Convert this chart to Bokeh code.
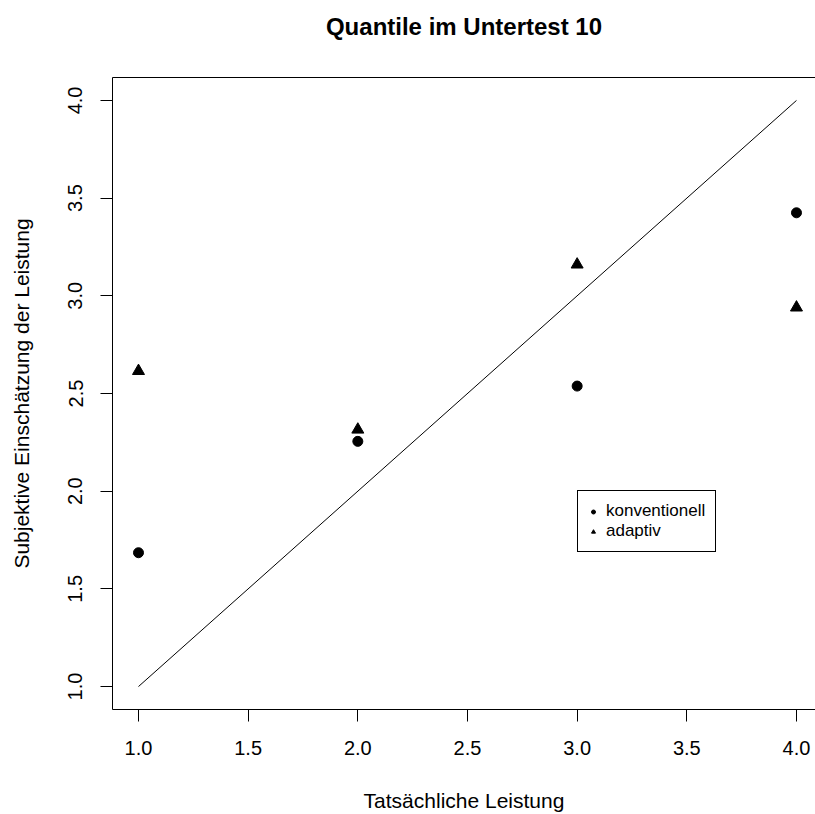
import math
from bokeh.plotting import figure
from bokeh.models import (Range1d, FixedTicker, Legend, LegendItem, ColumnDataSource,
                          LinearAxis)
from bokeh.embed import file_html
from bokeh.resources import INLINE

# data
title_text = "Quantile im Untertest 10"
x_label = "Tatsächliche Leistung"
y_label = "Subjektive Einschätzung der Leistung"
actual = [1, 2, 3, 4]
konventionell = [1.685, 2.255, 2.538, 3.425]
adaptiv = [2.615, 2.315, 3.16, 2.94]
diag_x = [1, 4]
diag_y = [1, 4]
ticks = [1.0, 1.5, 2.0, 2.5, 3.0, 3.5, 4.0]
tick_labels = ["1.0", "1.5", "2.0", "2.5", "3.0", "3.5", "4.0"]
legend_labels = ["konventionell", "adaptiv"]

FONT = "Liberation Sans"

p = figure(width=815, height=814, output_backend="svg", toolbar_location=None,
           x_range=Range1d(0.8815, 4.0867), y_range=Range1d(0.8825, 4.1175),
           min_border_left=112, min_border_right=0, min_border_top=77, min_border_bottom=104)

p.grid.visible = False
p.outline_line_color = None
p.background_fill_color = "white"
p.title.text = ""
p.title.standoff = 0
p.title.visible = False

for ax in (p.xaxis[0], p.yaxis[0]):
    ax.ticker = FixedTicker(ticks=ticks)
    ax.major_label_overrides = {t: l for t, l in zip(ticks, tick_labels)}
    ax.minor_tick_line_color = None
    ax.major_tick_in = 0
    ax.major_tick_out = 12
    ax.major_tick_line_color = "black"
    ax.axis_line_color = "black"
    ax.major_label_text_font = FONT
    ax.major_label_text_font_size = "20px"
    ax.major_label_text_color = "black"
    ax.axis_label_text_font = FONT
    ax.axis_label_text_font_size = "21px"
    ax.axis_label_text_font_style = "normal"
    ax.axis_label_text_color = "black"

p.xaxis.axis_label = x_label
p.yaxis.axis_label = y_label
p.yaxis.major_label_orientation = "vertical"
p.xaxis.major_label_standoff = 19
p.yaxis.major_label_standoff = 18
p.xaxis.axis_label_standoff = 31
p.yaxis.axis_label_standoff = 33

# top box edge + main title, carried by an axis above the frame
top = LinearAxis(ticker=FixedTicker(ticks=[]), axis_label=title_text,
                 major_tick_in=0, major_tick_out=0, minor_tick_line_color=None,
                 major_label_standoff=0, major_label_text_font_size="0px",
                 axis_line_color="black", axis_label_standoff=38,
                 axis_label_text_font=FONT, axis_label_text_font_size="24px",
                 axis_label_text_font_style="bold", axis_label_text_color="black")
p.add_layout(top, "above")

p.line(diag_x, diag_y, line_color="black", line_width=1)
p.scatter(actual, konventionell, marker="circle", size=10, color="black")
p.scatter(actual, adaptiv, marker="triangle", size=12, color="black")

# small glyphs used only for the legend (no visible data)
nan_src = ColumnDataSource(data=dict(x=[math.nan], y=[math.nan]))
lk = p.scatter("x", "y", source=nan_src, marker="circle", size=8, color="black")
la = p.scatter("x", "y", source=nan_src, marker="triangle", size=9, color="black")

legend = Legend(items=[LegendItem(label=legend_labels[0], renderers=[lk]),
                       LegendItem(label=legend_labels[1], renderers=[la])],
                location=(465, 157), orientation="vertical",
                border_line_color="black", border_line_width=1, border_line_alpha=1,
                background_fill_color="white", background_fill_alpha=1,
                label_text_font=FONT, label_text_font_size="17px",
                label_text_color="black", glyph_width=10, glyph_height=19,
                label_standoff=8, padding=10, spacing=0, margin=0,
                label_height=19)
p.add_layout(legend, "center")

open("out.html", "w").write(file_html(p, INLINE))
